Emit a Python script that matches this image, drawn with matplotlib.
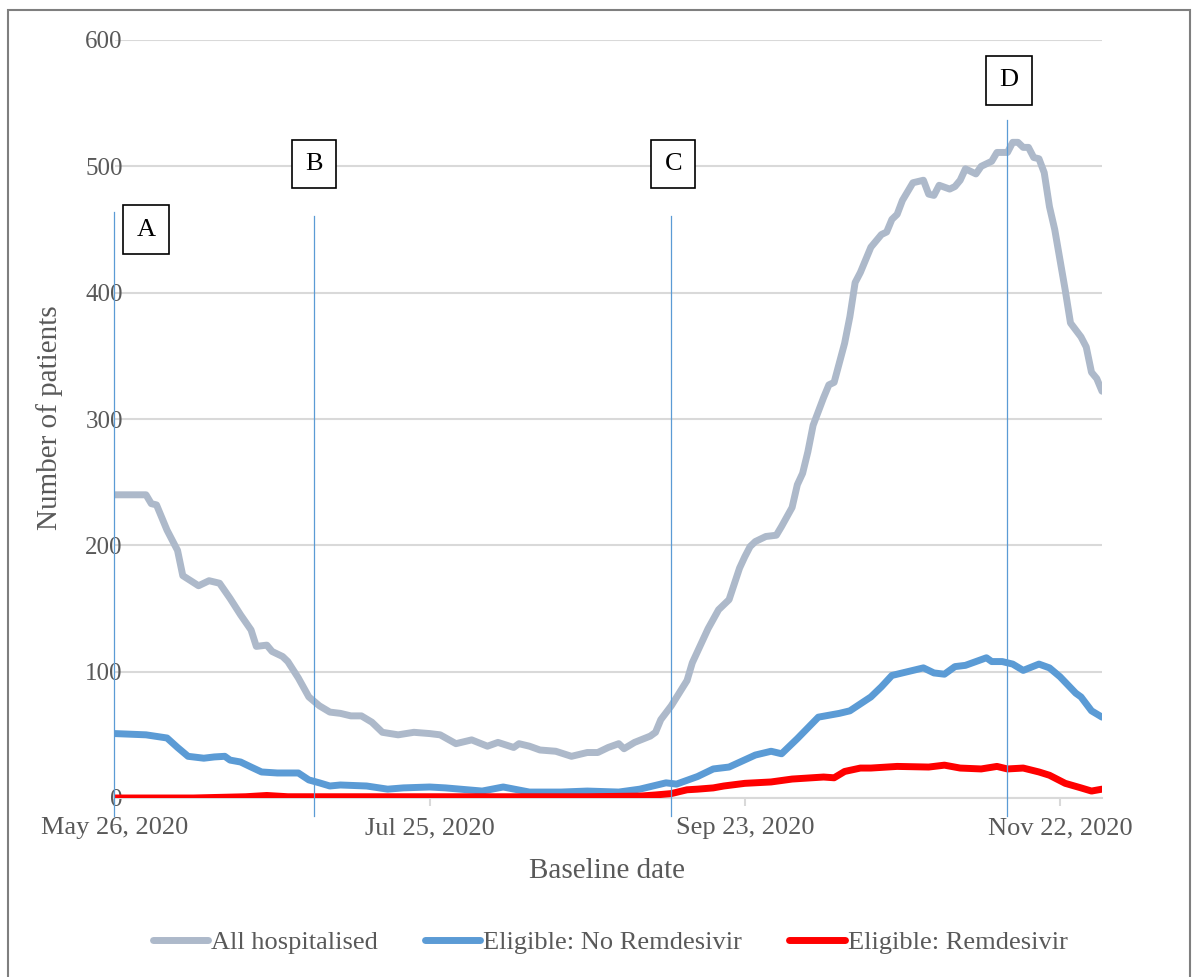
import numpy as np
import pandas as pd
import matplotlib
matplotlib.use('Agg')
import matplotlib.pyplot as plt
import matplotlib.dates as mdates
from matplotlib.patches import Rectangle

# values, day offsets from 26 May 2020
base = pd.Timestamp('2020-05-26')

all_days = [0, 6, 7, 8, 10, 12, 13, 16, 18, 20, 22, 24, 26, 27, 29, 30, 32, 33, 35, 37,
            39, 41, 43, 45, 47, 49, 51, 54, 57, 60, 62, 65, 68, 71, 73, 76, 77, 79, 81, 84,
            87, 88, 90, 92, 94, 96, 97, 99, 102, 103, 104, 106, 109, 110, 113, 115, 117, 119,
            120, 121, 122, 124, 126, 127, 129, 130, 131, 132, 133, 135, 136, 137, 139, 140,
            141, 142, 144, 146, 147, 148, 149, 150, 152, 154, 155, 156, 157, 159, 160, 161,
            162, 164, 165, 167, 168, 170, 171, 172, 173, 174, 175, 176, 177, 178, 179, 180,
            181, 182, 184, 185, 186, 187, 188]
all_hosp = [240, 240, 233, 232, 212, 196, 176, 168, 172, 170, 158, 145, 133, 120, 121, 116,
            112, 108, 95, 80, 73, 68, 67, 65, 65, 60, 52, 50, 52, 51, 50, 43, 46, 41, 44, 40,
            43, 41, 38, 37, 33, 34, 36, 36, 40, 43, 39, 44, 49, 52, 62, 73, 93, 107, 134, 149,
            157, 182, 191, 199, 203, 207, 208, 215, 230, 248, 257, 274, 295, 317, 327, 329,
            360, 381, 408, 416, 436, 446, 448, 458, 462, 473, 487, 489, 478, 477, 485, 482,
            484, 489, 498, 494, 500, 504, 511, 511, 519, 519, 515, 515, 507, 506, 495, 468,
            450, 426, 402, 376, 365, 357, 337, 332, 322]

no_rem_days = [0, 6, 10, 12, 14, 17, 19, 21, 22, 24, 26, 28, 31, 35, 37, 39, 41, 43, 48, 52,
               55, 60, 63, 70, 74, 79, 85, 90, 96, 100, 105, 107, 109, 111, 114, 117, 122,
               125, 127, 130, 134, 138, 140, 144, 146, 148, 152, 154, 156, 158, 160, 162,
               166, 167, 169, 171, 173, 176, 178, 180, 183, 184, 186, 188]
no_rem = [51, 50, 47.5, 40, 33, 31.5, 32.5, 33, 30, 28.5, 24.5, 20.6, 19.8, 19.8, 14.3, 12,
          9.5, 10.3, 9.5, 7, 8, 8.7, 8, 5.5, 8.7, 4.7, 4.7, 5.5, 4.7, 7, 12, 11, 14, 17, 23,
          24.5, 34, 37, 35, 47, 64, 67, 69, 80, 88, 97, 101, 103, 99, 98, 104, 105, 111, 108,
          108, 106, 101, 106, 103, 96, 83, 80, 69, 64]

rem_days = [0, 15, 25, 29, 33, 45, 60, 75, 90, 100, 103, 106, 109, 111, 114, 116, 120, 125,
            129, 135, 137, 139, 142, 144, 149, 155, 158, 161, 165, 168, 170, 173, 176, 178,
            181, 184, 186, 188]
rem = [0, 0, 1, 2, 1, 1, 1, 1, 1, 1.5, 2.4, 3.5, 6.5, 7, 8, 9.5, 11.6, 12.7, 15, 16.6, 16,
       21, 23.7, 23.7, 25, 24.5, 26, 23.7, 23, 25, 23, 23.7, 20.6, 18, 11.6, 8, 5.5, 7]

# period markers
marker_labels = ['A', 'B', 'C', 'D']
marker_days = [0, 38, 106, 170]
line_tops = [464, 461, 461, 537]
box_days = [6, 38, 106.4, 170.3]
box_y = [450, 502, 502, 568]

tick_days = [0, 60, 120, 180]

font = 'Liberation Serif'
txt_col = '#595959'

def to_dates(days):
    return [base + pd.Timedelta(days=d) for d in days]

fig = plt.figure(figsize=(11.98, 9.77), dpi=100)
ax = fig.add_axes([114.5 / 1198, 1 - 798 / 977, (1102 - 114.5) / 1198, (798 - 40) / 977])

# outer frame
fig.patches.append(Rectangle((8 / 1198, -0.05), (1190 - 8) / 1198, 1.05 - 10 / 977,
                             transform=fig.transFigure, fill=False, ec='#7f7f7f', lw=1.5))

ax.plot(to_dates(all_days), all_hosp, color='#adb9ca', lw=5, label='All hospitalised',
        solid_capstyle='round', solid_joinstyle='round', zorder=3)
ax.plot(to_dates(no_rem_days), no_rem, color='#5b9bd5', lw=5, label='Eligible: No Remdesivir',
        solid_capstyle='round', solid_joinstyle='round', zorder=3)
ax.plot(to_dates(rem_days), rem, color='#ff0000', lw=5, label='Eligible: Remdesivir',
        solid_capstyle='round', solid_joinstyle='round', zorder=3)

for lab, d, top, bd, by in zip(marker_labels, marker_days, line_tops, box_days, box_y):
    x = base + pd.Timedelta(days=d)
    ax.plot([x, x], [-14, top], color='#5b9bd5', lw=0.9, clip_on=False, zorder=4)
    ax.text(base + pd.Timedelta(days=bd), by, lab, ha='center', va='center', fontsize=19,
            family=font, color='black', zorder=5,
            bbox=dict(boxstyle='square,pad=0.5', fc='white', ec='black', lw=1.2))

ax.set_xlim(base, base + pd.Timedelta(days=188))
ax.set_ylim(0, 600)
ax.set_yticks(range(0, 601, 100))
ax.grid(axis='y', color='#d9d9d9', lw=1.5, zorder=0)
ax.set_xticks(to_dates(tick_days))
ax.xaxis.set_major_formatter(mdates.DateFormatter('%b %d, %Y'))

for s in ['top', 'right', 'left']:
    ax.spines[s].set_visible(False)
ax.spines['bottom'].set_color('#d9d9d9')
ax.spines['bottom'].set_linewidth(1.5)
ax.tick_params(axis='x', length=6, width=1.5, color='#d9d9d9', pad=8,
               labelsize=19, labelcolor=txt_col)
ax.tick_params(axis='y', length=0, pad=-6, labelsize=18, labelcolor=txt_col)
for t in ax.get_xticklabels() + ax.get_yticklabels():
    t.set_family(font)

fig.text(607 / 1198, 1 - 871 / 977, 'Baseline date', ha='center', va='center',
         fontsize=21, family=font, color=txt_col)
fig.text(50 / 1198, 1 - 418 / 977, 'Number of patients', ha='center', va='center',
         rotation=90, fontsize=21, family=font, color=txt_col)

leg = fig.legend(loc='center', bbox_to_anchor=(610 / 1198, 1 - 942 / 977), ncol=3,
                 frameon=False, handlelength=2.1, handletextpad=0.1, columnspacing=1.8,
                 prop={'family': font, 'size': 19})
for t in leg.get_texts():
    t.set_color(txt_col)

fig.savefig('out.png', dpi=100)
